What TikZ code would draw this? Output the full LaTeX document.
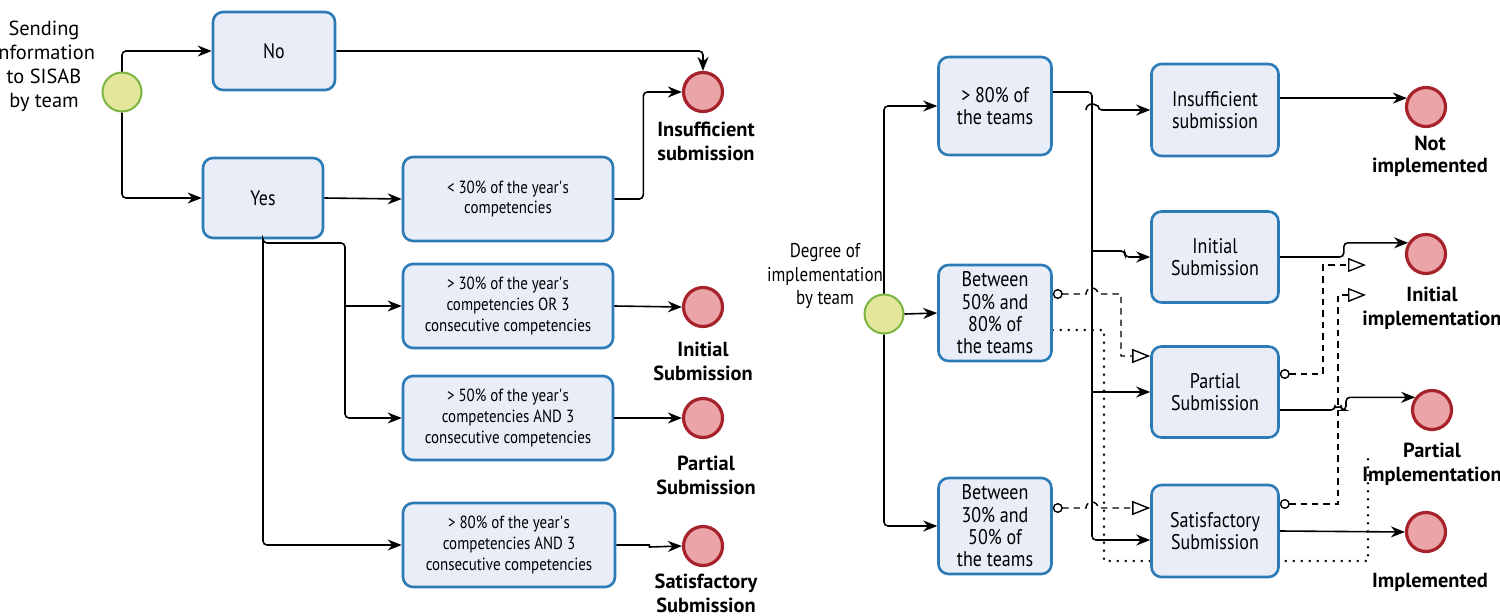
\documentclass[tikz,border=0pt]{standalone}
\usepackage{fontspec}
\setmainfont{PT Sans}[FakeStretch=0.85]
\newfontfamily\labelfont{PT Sans}
\usetikzlibrary{arrows.meta,backgrounds}
\definecolor{taskfill}{HTML}{E8EDF7}
\definecolor{taskline}{HTML}{2C7BB6}
\definecolor{startfill}{HTML}{E3E69B}
\definecolor{startline}{HTML}{7CB342}
\definecolor{endfill}{HTML}{EBA4A8}
\definecolor{endline}{HTML}{A6232B}

\begin{document}
\begin{tikzpicture}[x=0.5pt,y=-0.5pt,
	task/.style={draw=taskline,fill=taskfill,line width=1.3pt,rounded corners=5pt,align=center,inner sep=1pt},
	lefttask/.style={task,minimum width=105pt,minimum height=42pt,font=\fontsize{8.8}{10.3}\selectfont},
	righttask/.style={task,minimum width=56.5pt,minimum height=48pt,font=\fontsize{10.6}{11.2}\selectfont},
	startev/.style={circle,draw=startline,fill=startfill,line width=1pt,minimum size=19.5pt,inner sep=0pt},
	endev/.style={circle,draw=endline,fill=endfill,line width=1.6pt,minimum size=19.5pt,inner sep=0pt},
	evlabel/.style={align=center,font=\labelfont\fontsize{10.2}{12}\selectfont\bfseries},
	sidelabel/.style={align=center,font=\labelfont\fontsize{10.2}{12}\selectfont},
	flow/.style={line width=0.8pt,rounded corners=2pt,-{Stealth[length=7pt,width=5.5pt]}},
	msg/.style={line width=0.7pt,dash pattern=on 3.2pt off 2.5pt,{Circle[open,length=5pt,width=5pt]}-{Triangle[open,length=9pt,width=7pt]}},
	assoc/.style={line width=1.4pt,dash pattern=on 0pt off 4pt,line cap=round}]
	\useasboundingbox (0,0) rectangle (1500,616);
	% left process: sending information
	\node[startev] (ls) at (122,92) {};
	\node[sidelabel] (lsl) at (44,66) {Sending\\information\\to SISAB\\by team};
	\node[task,minimum width=61pt,minimum height=39pt,font=\fontsize{10.5}{12}\selectfont] (no) at (274,51) {No};
	\node[task,minimum width=60pt,minimum height=40pt,font=\fontsize{10.5}{12}\selectfont] (yes) at (263,198) {Yes};
	\node[lefttask] (lt30) at (508,199) {< 30\% of the year\textquotesingle s\\competencies};
	\node[lefttask] (gt30) at (508,306) {> 30\% of the year\textquotesingle s\\competencies OR 3\\consecutive competencies};
	\node[lefttask] (gt50) at (508,418) {> 50\% of the year\textquotesingle s\\competencies AND 3\\consecutive competencies};
	\node[lefttask,minimum width=106pt] (gt80) at (509,545) {> 80\% of the year\textquotesingle s\\competencies AND 3\\consecutive competencies};
	
	\node[endev] (lins) at (703,92) {};
	\node[endev] (lini) at (703,307) {};
	\node[endev] (lpar) at (703,418) {};
	\node[endev] (lsat) at (703,546) {};
	\node[evlabel] (linsl) at (706,141) {Insufficient\\submission};
	\node[evlabel] (linil) at (703,361) {Initial\\Submission};
	\node[evlabel] (lparl) at (706,475) {Partial\\Submission};
	\node[evlabel] (lsatl) at (706,593) {Satisfactory\\Submission};
	
	\draw[flow] (ls.north) |- (no.west);
	\draw[flow] (no.east) -| (lins.north);
	\draw[flow] (ls.south) |- (yes.west);
	\draw[flow] (yes.east) -- (lt30.west);
	\draw[flow] (lt30.east) -- ++(29,0) |- (lins.west);
	\coordinate (ysplit) at (345,243);
	\draw[flow] (yes.south) |- (ysplit) |- (gt50.west);
	\draw[flow] (ysplit |- gt30.west) -- (gt30.west);
	\draw[flow] (yes.south) |- (gt80.west);
	\draw[flow] (gt30.east) -- (lini.west);
	\draw[flow] (gt50.east) -- (lpar.west);
	\draw[flow,sharp corners] (gt80.east) -- ++(33,0) -- ++(0,2) -- (lsat.west);
	
	% right process: degree of implementation
	\node[startev] (rs) at (884,314) {};
	\node[sidelabel,font=\fontsize{10}{11.7}\selectfont] (rsl) at (825,276) {Degree of\\implementation\\by team};
	\node[righttask,minimum height=49pt] (rgt80) at (995,106) {> 80\% of\\the teams};
	\node[righttask] (rb5080) at (995,313) {Between\\50\% and\\80\% of\\the teams};
	\node[righttask] (rb3050) at (995,526) {Between\\30\% and\\50\% of\\the teams};
	\node[righttask,minimum width=63.5pt,minimum height=46pt] (rins) at (1215,110) {Insufficient\\submission};
	\node[righttask,minimum width=63.5pt,minimum height=45.5pt] (rini) at (1215,257) {Initial\\Submission};
	\node[righttask,minimum width=63.5pt,minimum height=45.5pt] (rpar) at (1215,392) {Partial\\Submission};
	\node[righttask,minimum width=63.5pt,minimum height=46pt] (rsat) at (1215,531) {Satisfactory\\Submission};
	
	\node[endev] (nimp) at (1426,107) {};
	\node[endev] (iimp) at (1426,254) {};
	\node[endev] (pimp) at (1432,410) {};
	\node[endev] (imp) at (1426,532) {};
	\node[evlabel,font=\labelfont\fontsize{10.2}{11}\selectfont\bfseries] (nimpl) at (1430,156) {Not\\implemented};
	\node[evlabel] (iimpl) at (1432,308) {Initial\\implementation};
	\node[evlabel] (pimpl) at (1432,464) {Partial\\Implementation};
	\node[evlabel] (impl) at (1430,582) {Implemented};
	
	\draw[flow] (rs.north) |- (rgt80.west);
	\draw[flow] (rs.east) -- (rb5080.west);
	\draw[flow] (rs.south) |- (rb3050.west);
	\coordinate (vtop) at (1092,92);
	\coordinate (vbot) at (1092,540);
	\coordinate (vini) at (1092,251);
	\draw[flow] (rgt80.east |- vtop) -- (vtop) -- (vbot) -- (vbot -| rsat.west);
	\draw[flow] (1086,110) arc[start angle=180,end angle=0,radius=3pt] -- (rins.west);
	\draw[flow] (vini) -- ++(33,0) |- (rini.west);
	\draw[flow] (vtop |- rpar.west) -- (rpar.west);
	
	\draw[flow] (rins.east |- nimp.155) -- (nimp.155);
	\draw[flow] (rini.east) -- ++(64,0) |- (iimp.148);
	\draw[flow] ([yshift=-9pt]rpar.east) -- (1335,410) arc[start angle=180,end angle=0,radius=1.5pt] -- (1346,410) |- (pimp.143);
	\draw[flow] (rsat.east) -- (imp.west);
	
	\coordinate (m1a) at (1121,294);
	\coordinate (m1b) at (1121,356);
	\draw[msg] (rb5080.east |- m1a) -- (1086,294) arc[start angle=180,end angle=0,radius=3pt] -- (m1a) -- (m1b) -- (rpar.west |- m1b);
	\coordinate (m2) at (1120,508);
	\draw[msg] (rb3050.east |- m2) -- (1086,508) arc[start angle=180,end angle=0,radius=3pt] -- (rsat.west |- m2);
	\coordinate (m3a) at (1323,374);
	\coordinate (m3b) at (1323,265);
	\coordinate (m3e) at (1366,265);
	\draw[msg] (rpar.east |- m3a) -- (m3a) -- (m3b) -- (m3e);
	\coordinate (m4a) at (1338,504);
	\coordinate (m4b) at (1338,295);
	\coordinate (m4e) at (1366,295);
	\draw[msg] (rsat.east |- m4a) -- (m4a) -- (m4b) -- (m4e);
	
	\begin{scope}[on background layer]
	\coordinate (d1) at (1104,330);
	\coordinate (d2) at (1104,561);
	\coordinate (d3) at (1368,561);
	\coordinate (d4) at (1368,452);
	\draw[assoc] (rb5080.east |- d1) -- (d1) -- (d2) -- (d3) -- (d4);
	\end{scope}
\end{tikzpicture}
\end{document}
